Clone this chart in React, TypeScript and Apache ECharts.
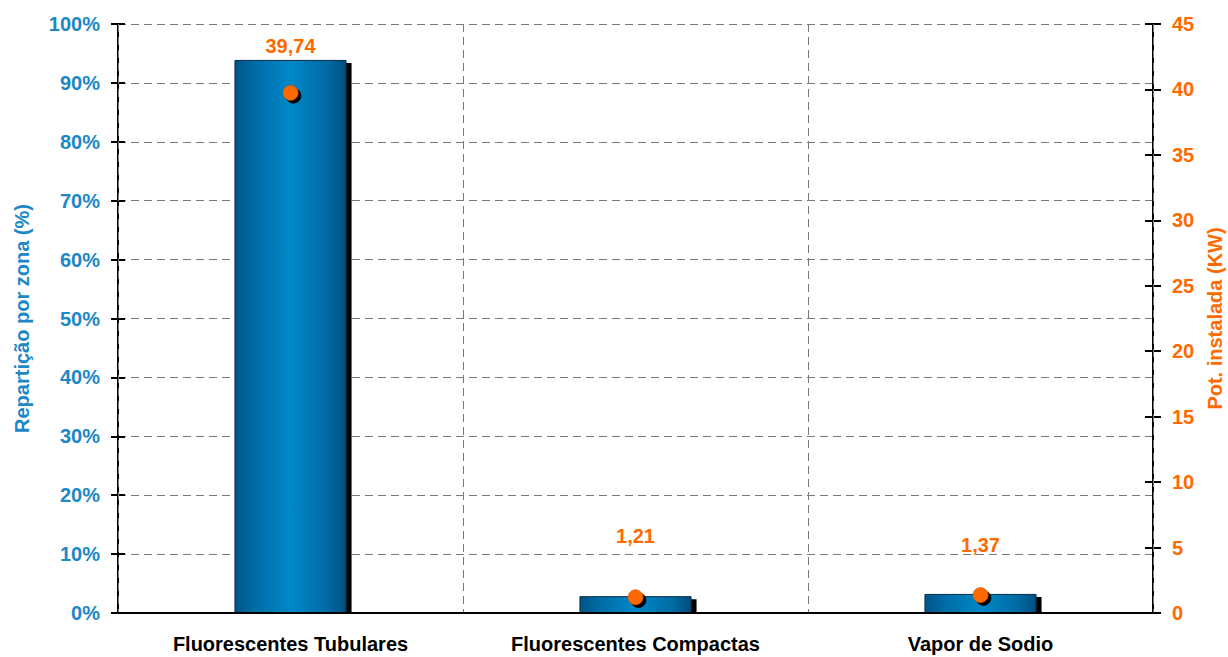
import React, { useEffect, useRef } from "react";
import * as echarts from "echarts";

// Lamp types and their figures
const categories = ["Fluorescentes Tubulares", "Fluorescentes Compactas", "Vapor de Sodio"];
const sharePct = [93.9, 2.86, 3.24]; // repartição por zona (%)
const powerKW = [39.74, 1.21, 1.37]; // potência instalada (kW)
const labelLift = [-24, -38, -27];

const BLUE = "#1C88C6";
const ORANGE = "#FF6A00";
const FONT = "'Liberation Sans', Arial, sans-serif";
const FS = 20;
const BAR_FRACTION = 0.325;

export default function App() {
  const ref = useRef<HTMLDivElement>(null);

  useEffect(() => {
    document.body.style.margin = "0";
    if (!ref.current) return;
    const chart = echarts.init(ref.current, undefined, { renderer: "svg" });

    const tickStyle = { color: "#000", width: 2 };
    const hidden = { show: false };
    const dashed = { color: "#7a7a7a", type: [8, 5], width: 1 };

    chart.setOption({
      animation: false,
      backgroundColor: "#fff",
      grid: {
        left: 118,
        right: 75,
        top: 24,
        bottom: 44,
        containLabel: false,
        outerBoundsMode: "none",
      },
      xAxis: [
        {
          type: "category",
          data: categories,
          z: 10,
          axisLine: { lineStyle: { color: "#000", width: 2 } },
          axisTick: { length: 8, lineStyle: tickStyle },
          axisLabel: {
            color: "#000",
            fontFamily: FONT,
            fontWeight: "bold",
            fontSize: FS,
            margin: 21,
          },
          splitLine: { show: true, lineStyle: dashed },
        },
        {
          type: "category",
          data: categories,
          position: "bottom",
          z: 10,
          axisLine: { lineStyle: { color: "#000", width: 2 } },
          axisTick: { inside: true, length: 8, lineStyle: tickStyle },
          axisLabel: hidden,
          splitLine: hidden,
        },
      ],
      yAxis: [
        {
          type: "value",
          min: 0,
          max: 100,
          interval: 10,
          position: "left",
          name: "Repartição por zona (%)",
          nameLocation: "middle",
          nameGap: 86,
          nameTextStyle: { color: BLUE, fontFamily: FONT, fontWeight: "bold", fontSize: FS },
          axisLine: { show: true, lineStyle: { color: "#000", width: 2 } },
          axisTick: { show: true, length: 7, lineStyle: tickStyle },
          axisLabel: {
            formatter: "{value}%",
            color: BLUE,
            fontFamily: FONT,
            fontWeight: "bold",
            fontSize: FS,
            margin: 18,
          },
          splitLine: { show: true, lineStyle: dashed },
        },
        {
          type: "value",
          min: 0,
          max: 45,
          interval: 5,
          position: "right",
          name: "Pot. instalada (KW)",
          nameLocation: "middle",
          nameGap: 50,
          nameTextStyle: { color: ORANGE, fontFamily: FONT, fontWeight: "bold", fontSize: FS },
          axisLine: { show: true, lineStyle: { color: "#000", width: 2 } },
          axisTick: { show: true, length: 8, lineStyle: tickStyle },
          axisLabel: {
            color: ORANGE,
            fontFamily: FONT,
            fontWeight: "bold",
            fontSize: FS,
            margin: 19,
          },
          splitLine: hidden,
        },
        {
          type: "value",
          min: 0,
          max: 100,
          interval: 10,
          position: "left",
          axisLine: { show: true, lineStyle: { color: "#000", width: 2 } },
          axisTick: { show: true, inside: true, length: 7, lineStyle: tickStyle },
          axisLabel: hidden,
          splitLine: hidden,
        },
        {
          type: "value",
          min: 0,
          max: 45,
          interval: 5,
          position: "right",
          axisLine: { show: true, lineStyle: { color: "#000", width: 2 } },
          axisTick: { show: true, inside: true, length: 8, lineStyle: tickStyle },
          axisLabel: hidden,
          splitLine: hidden,
        },
      ],
      series: [
        {
          // drop shadow behind each bar, stopping at the baseline
          type: "custom",
          yAxisIndex: 0,
          z: 1,
          silent: true,
          data: sharePct.map((v, i) => [i, v]),
          renderItem: (_params: any, api: any) => {
            const base = api.coord([api.value(0), 0]);
            const top = api.coord([api.value(0), api.value(1)]);
            const w = api.size([1, 0])[0] * BAR_FRACTION;
            return {
              type: "rect",
              shape: { x: top[0] - w / 2 + 5, y: top[1] + 3, width: w, height: base[1] - top[1] - 3 },
              style: { fill: "#000" },
            };
          },
        },
        {
          type: "bar",
          yAxisIndex: 0,
          data: sharePct,
          barWidth: BAR_FRACTION * 100 + "%",
          z: 2,
          itemStyle: {
            color: new echarts.graphic.LinearGradient(0, 0, 1, 0, [
              { offset: 0, color: "#005587" },
              { offset: 0.18, color: "#006CA6" },
              { offset: 0.5, color: "#0088C9" },
              { offset: 0.82, color: "#006CA6" },
              { offset: 1, color: "#004F7D" },
            ]),
            borderColor: "#0C2C45",
            borderWidth: 1,
          },
        },
        {
          type: "scatter",
          yAxisIndex: 1,
          z: 5,
          symbol: "circle",
          symbolSize: 15,
          data: powerKW.map((v, i) => ({
            value: v,
            label: { offset: [0, labelLift[i]] },
          })),
          itemStyle: {
            color: ORANGE,
            borderColor: "#C24E00",
            borderWidth: 0.5,
            shadowColor: "#000",
            shadowBlur: 0,
            shadowOffsetX: 3,
            shadowOffsetY: 3,
            opacity: 1,
          },
          label: {
            show: true,
            position: "top",
            distance: 5,
            color: ORANGE,
            fontFamily: FONT,
            fontWeight: "bold",
            fontSize: FS,
            formatter: (p: any) => String(p.value).replace(".", ","),
          },
        },
      ],
    });

    return () => chart.dispose();
  }, []);

  return <div ref={ref} style={{ width: 1228, height: 657 }} />;
}
